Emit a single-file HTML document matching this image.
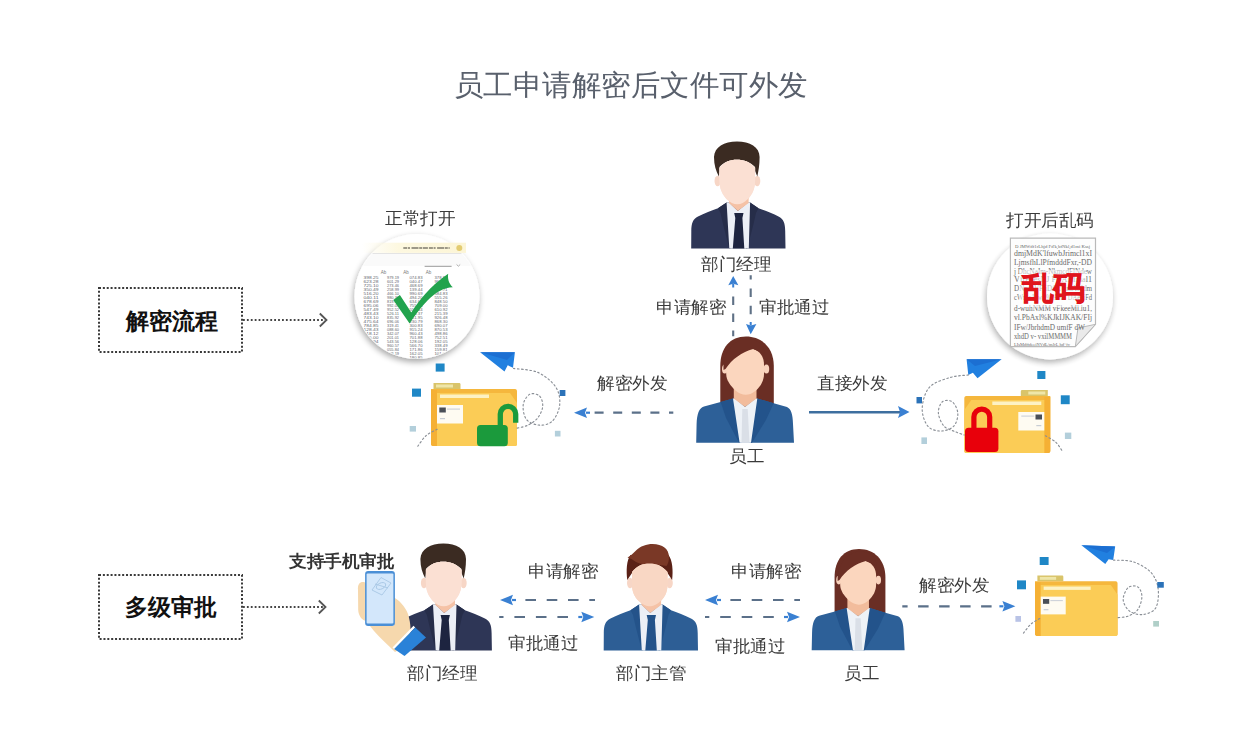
<!DOCTYPE html><html><head><meta charset="utf-8"><style>
html,body{margin:0;padding:0;background:#fff;}
#c{position:relative;width:1242px;height:740px;overflow:hidden;background:#fff;font-family:"Liberation Sans",sans-serif;}
.t{position:absolute;white-space:nowrap;line-height:1;transform-origin:0 0;}
svg{position:absolute;left:0;top:0;}
</style></head><body><div id="c">
<svg width="1242" height="740" viewBox="0 0 1242 740"><defs><filter id="sh" x="-30%" y="-30%" width="160%" height="160%"><feGaussianBlur in="SourceAlpha" stdDeviation="3"/><feOffset dx="-1.5" dy="3"/><feComponentTransfer><feFuncA type="linear" slope="0.35"/></feComponentTransfer><feMerge><feMergeNode/><feMergeNode in="SourceGraphic"/></feMerge></filter><clipPath id="c1"><circle cx="417" cy="296.5" r="62"/></clipPath></defs><g transform="translate(690,141) scale(1.0,1.0)"><ellipse cx="27.6" cy="40" rx="3.1" ry="5.2" fill="#f7d6c6"/><ellipse cx="67.2" cy="40" rx="3.1" ry="5.2" fill="#f7d6c6"/><path d="M28.9,35.6 C26,30 24,24 24,16 C24.5,6 34,0.5 47,0.5 C60,0.5 69.5,6 69.6,16 C69.6,24 68.5,30 67.3,35.6 L65.1,30 L65.1,26 C60,21 54,18.8 46.8,18.8 C40,18.8 34,21 29.5,26 L29.5,30 Z" fill="#3b2b22"/><path d="M29.5,27 C34,21 40,18.8 46.8,18.8 C54,18.8 60,21 65.1,27 L65.1,40 C65.1,47 62.5,53 58,58 C54.5,61.5 51,63.2 47.3,63.2 C43.6,63.2 40,61.5 36.5,58 C32,53 29.5,47 29.5,40 Z" fill="#fbe0d3"/><path d="M1.2,107.6 L1.3,90 C1.4,82 3,78 8,75.5 C14,72.5 22,69.5 28,67.3 L36.6,61.5 L60.1,61.5 L68.5,67.3 C74.5,69.5 82.5,72.5 88.5,75.5 C93.5,78 95.1,82 95.2,90 L95.5,107.6 Z" fill="#2e3656"/><path d="M36.6,61.5 L28,67.3 L30.5,72 L33,83 L39.3,107.6 L40.5,107.6 Z" fill="#262d49"/><path d="M60.1,61.5 L68.5,67.3 L66,72 L63.5,83 L57.3,107.6 L56,107.6 Z" fill="#262d49"/><path d="M36.6,61.5 L39,61.5 L47.8,70 L58,61.5 L60.1,61.5 L58.8,107.6 L39.3,107.6 Z" fill="#eceff6"/><path d="M39,48 L58.6,48 L58.6,62 L47.8,70 L39,62 Z" fill="#f5c2a6"/><path d="M29.5,27 C34,21 40,18.8 46.8,18.8 C54,18.8 60,21 65.1,27 L65.1,40 C65.1,47 62.5,53 58,58 C54.5,61.5 51,63.2 47.3,63.2 C43.6,63.2 40,61.5 36.5,58 C32,53 29.5,47 29.5,40 Z" fill="#fbe0d3"/><path d="M44.2,72 L53.5,72 L52.4,77 L45.3,77 Z M45.3,77 L52.4,77 L54.3,107.6 L42.8,107.6 Z" fill="#1d2440"/></g><g transform="translate(696,336) scale(1.0,1.0)"><path d="M24.3,68 L24.3,30 C24.3,12 34,0.5 50,0.5 C66,0.5 77.8,12 77.8,30 L77.8,68 Z" fill="#6a2e24"/><ellipse cx="28.8" cy="33" rx="2.8" ry="4.6" fill="#f9d3bd"/><ellipse cx="70.4" cy="33" rx="2.8" ry="4.6" fill="#f9d3bd"/><path d="M0.2,106.7 L0.6,88 C1,78 3,72 8,70.5 L24.6,66 L37,62.4 L61.3,62.4 L77.7,67.3 L91,71 C95,73 96.8,78 97,88 L98,106.7 Z" fill="#2d6098"/><path d="M37,62.4 L24.6,66 L30,82 L43,106.7 L44.5,106.7 Z" fill="#23538b"/><path d="M61.3,62.4 L77.7,67.3 L70,84 L56,106.7 L54.5,106.7 Z" fill="#23538b"/><path d="M37,62.4 L39,62.4 L49,71 L59.5,62.4 L61.3,62.4 L55,106.7 L43.6,106.7 Z" fill="#eef2f7"/><path d="M37.8,46 L60.5,46 L60.5,62.5 L49,71 L37.8,62.5 Z" fill="#f2bc9c"/><path d="M30.2,30 C30.5,20 42,13 57.2,13 C64,15 68,21 68,28.6 L68,38 C68,44 65,50 60,54.5 C56,57.8 52.5,58.8 49.7,58.8 C46.5,58.8 43,57.5 39.5,54.5 C34.5,50 30.2,44 30.2,38 Z" fill="#fbd6be"/><path d="M27.5,34 C27,16 38,3 52,3 C62,3.5 68,9 69,18 L57.2,13 C46,16 36,23 29.5,33 Z" fill="#6a2e24"/><path d="M46.3,73 L51.7,73 L53.5,106.7 L45.5,106.7 Z" fill="#dadfe7"/></g><polygon points="733.2,276.1 728.3,285.3 733.2,283.8 738.4,285.3" fill="#3a80d2"/><line x1="733.2" y1="284" x2="733.2" y2="287.5" stroke="#3a80d2" stroke-width="2"/><line x1="733.2" y1="336.2" x2="733.2" y2="290" stroke="#5f7186" stroke-width="2.1" stroke-dasharray="8.5 8.5" stroke-dashoffset="2.8"/><line x1="750.7" y1="275.2" x2="750.7" y2="320" stroke="#5f7186" stroke-width="2.1" stroke-dasharray="8.5 8.9" stroke-dashoffset="4.2"/><line x1="750.7" y1="322" x2="750.7" y2="325.5" stroke="#3a80d2" stroke-width="2"/><polygon points="750.7,334.3 746,323.9 750.7,325.4 756.4,323.9" fill="#3a80d2"/><polygon points="574,412.7 587,407.5 585,412.7 587,417.9" fill="#3a80d2"/><line x1="586" y1="412.7" x2="590" y2="412.7" stroke="#3a80d2" stroke-width="2.2"/><line x1="673.3" y1="412.7" x2="592" y2="412.7" stroke="#5b7089" stroke-width="2.2" stroke-dasharray="9 9.600000000000001" stroke-dashoffset="4.7"/><line x1="809" y1="412.3" x2="900" y2="412.3" stroke="#3e6f9f" stroke-width="2.4"/><polygon points="909.5,412 898,406 900,412 898,418" fill="#3a80d2"/><rect x="99" y="288" width="143" height="64" fill="none" stroke="#3a3a3a" stroke-width="2" stroke-dasharray="2 1.86"/><line x1="243" y1="320" x2="325" y2="320" stroke="#444" stroke-width="1.8" stroke-dasharray="1.8 2.1"/><polyline points="319.8,313.5 326.5,320 319.8,326.5" fill="none" stroke="#555" stroke-width="1.8"/><rect x="99" y="575" width="143" height="64" fill="none" stroke="#3a3a3a" stroke-width="2" stroke-dasharray="2 1.86"/><line x1="243" y1="607" x2="324" y2="607" stroke="#444" stroke-width="1.8" stroke-dasharray="1.8 2.1"/><polyline points="318.8,600.5 325.5,607 318.8,613.5" fill="none" stroke="#555" stroke-width="1.8"/><g transform="translate(431,383) scale(1.0)"><path d="M2.5,0 L28,0 C29,0 29.5,0.5 29.5,1.5 L29.5,6 L2.5,6 Z" fill="#d9c46a"/><rect x="5" y="1.5" width="17" height="3" fill="#efe6a8"/><path d="M0,6 L84,6 C85.5,6 86,7 86,8.5 L86,61 C86,62.5 85,63 84,63 L2,63 C1,63 0,62 0,61 Z" fill="#f5b73d"/><path d="M0,7 L6,7 L6,63 L2,63 C1,63 0,62 0,61 Z" fill="#f5b034"/><path d="M6,10 L79,10 L86,20 L86,61 C86,62.5 85,63 84,63 L6,63 Z" fill="#fbcc56"/><rect x="9" y="11.5" width="49" height="3.5" fill="#fdf2c4"/><rect x="6" y="22" width="26" height="18.5" fill="#fefbf2"/><rect x="8.3" y="24.5" width="6.5" height="5" fill="#4a4f57"/><rect x="16" y="25.5" width="13" height="1.2" fill="#cfd3da"/><rect x="9" y="35" width="5" height="1.2" fill="#c8cdd4"/></g><g transform="translate(1050.3,390) scale(-1.0,1.0)"><path d="M2.5,0 L28,0 C29,0 29.5,0.5 29.5,1.5 L29.5,6 L2.5,6 Z" fill="#d9c46a"/><rect x="5" y="1.5" width="17" height="3" fill="#efe6a8"/><path d="M0,6 L84,6 C85.5,6 86,7 86,8.5 L86,61 C86,62.5 85,63 84,63 L2,63 C1,63 0,62 0,61 Z" fill="#f5b73d"/><path d="M0,7 L6,7 L6,63 L2,63 C1,63 0,62 0,61 Z" fill="#f5b034"/><path d="M6,10 L79,10 L86,20 L86,61 C86,62.5 85,63 84,63 L6,63 Z" fill="#fbcc56"/><rect x="9" y="11.5" width="49" height="3.5" fill="#fdf2c4"/><rect x="6" y="22" width="26" height="18.5" fill="#fefbf2"/><rect x="8.3" y="24.5" width="6.5" height="5" fill="#4a4f57"/><rect x="16" y="25.5" width="13" height="1.2" fill="#cfd3da"/><rect x="9" y="35" width="5" height="1.2" fill="#c8cdd4"/></g><g transform="translate(1035,575.5) scale(0.96)"><path d="M2.5,0 L28,0 C29,0 29.5,0.5 29.5,1.5 L29.5,6 L2.5,6 Z" fill="#d9c46a"/><rect x="5" y="1.5" width="17" height="3" fill="#efe6a8"/><path d="M0,6 L84,6 C85.5,6 86,7 86,8.5 L86,61 C86,62.5 85,63 84,63 L2,63 C1,63 0,62 0,61 Z" fill="#f5b73d"/><path d="M0,7 L6,7 L6,63 L2,63 C1,63 0,62 0,61 Z" fill="#f5b034"/><path d="M6,10 L79,10 L86,20 L86,61 C86,62.5 85,63 84,63 L6,63 Z" fill="#fbcc56"/><rect x="9" y="11.5" width="49" height="3.5" fill="#fdf2c4"/><rect x="6" y="22" width="26" height="18.5" fill="#fefbf2"/><rect x="8.3" y="24.5" width="6.5" height="5" fill="#4a4f57"/><rect x="16" y="25.5" width="13" height="1.2" fill="#cfd3da"/><rect x="9" y="35" width="5" height="1.2" fill="#c8cdd4"/></g><g transform="translate(396.4,543) scale(1.0,1.0)"><ellipse cx="27.6" cy="40" rx="3.1" ry="5.2" fill="#f7d6c6"/><ellipse cx="67.2" cy="40" rx="3.1" ry="5.2" fill="#f7d6c6"/><path d="M28.9,35.6 C26,30 24,24 24,16 C24.5,6 34,0.5 47,0.5 C60,0.5 69.5,6 69.6,16 C69.6,24 68.5,30 67.3,35.6 L65.1,30 L65.1,26 C60,21 54,18.8 46.8,18.8 C40,18.8 34,21 29.5,26 L29.5,30 Z" fill="#3b2b22"/><path d="M29.5,27 C34,21 40,18.8 46.8,18.8 C54,18.8 60,21 65.1,27 L65.1,40 C65.1,47 62.5,53 58,58 C54.5,61.5 51,63.2 47.3,63.2 C43.6,63.2 40,61.5 36.5,58 C32,53 29.5,47 29.5,40 Z" fill="#fbe0d3"/><path d="M1.2,107.6 L1.3,90 C1.4,82 3,78 8,75.5 C14,72.5 22,69.5 28,67.3 L36.6,61.5 L60.1,61.5 L68.5,67.3 C74.5,69.5 82.5,72.5 88.5,75.5 C93.5,78 95.1,82 95.2,90 L95.5,107.6 Z" fill="#2e3656"/><path d="M36.6,61.5 L28,67.3 L30.5,72 L33,83 L39.3,107.6 L40.5,107.6 Z" fill="#262d49"/><path d="M60.1,61.5 L68.5,67.3 L66,72 L63.5,83 L57.3,107.6 L56,107.6 Z" fill="#262d49"/><path d="M36.6,61.5 L39,61.5 L47.8,70 L58,61.5 L60.1,61.5 L58.8,107.6 L39.3,107.6 Z" fill="#eceff6"/><path d="M39,48 L58.6,48 L58.6,62 L47.8,70 L39,62 Z" fill="#f5c2a6"/><path d="M29.5,27 C34,21 40,18.8 46.8,18.8 C54,18.8 60,21 65.1,27 L65.1,40 C65.1,47 62.5,53 58,58 C54.5,61.5 51,63.2 47.3,63.2 C43.6,63.2 40,61.5 36.5,58 C32,53 29.5,47 29.5,40 Z" fill="#fbe0d3"/><path d="M44.2,72 L53.5,72 L52.4,77 L45.3,77 Z M45.3,77 L52.4,77 L54.3,107.6 L42.8,107.6 Z" fill="#1d2440"/></g><g transform="translate(602.5,543) scale(1.0,1.0)"><ellipse cx="27.6" cy="40" rx="3.1" ry="5.2" fill="#f7d6c6"/><ellipse cx="67.2" cy="40" rx="3.1" ry="5.2" fill="#f7d6c6"/><path d="M24.8,37 C23.6,28 24,17 28,12 L66,12 C70,17 70.8,28 69.6,37 L65,30 L29.5,30 Z" fill="#5a2116"/><path d="M29.5,29 C34,23 40,20.5 47,20.5 C54,20.5 60,23 65,29 L65,42 C65,49 62,55 57,59 C53,62.3 50.5,63.2 47.3,63.2 C44,63.2 41.5,62.3 37.5,59 C32.5,55 29.5,49 29.5,42 Z" fill="#f9d7c4"/><path d="M25,14.5 C28,13 30,11 33,8 C38,3 44,1 50,1 C60,1 66.5,6 66.5,14 C66.5,18 65.5,21 64,23 C58,21.5 52,21.5 46,21.5 C40,21.5 34,20 30.5,17 C28.5,15.5 26.5,15 25,14.5 Z" fill="#7a3826"/><path d="M1.2,107.6 L1.3,90 C1.4,82 3,78 8,75.5 C14,72.5 22,69.5 28,67.3 L36.6,61.5 L60.1,61.5 L68.5,67.3 C74.5,69.5 82.5,72.5 88.5,75.5 C93.5,78 95.1,82 95.2,90 L95.5,107.6 Z" fill="#2d5e95"/><path d="M36.6,61.5 L28,67.3 L30.5,72 L33,83 L39.3,107.6 L40.5,107.6 Z" fill="#24538a"/><path d="M60.1,61.5 L68.5,67.3 L66,72 L63.5,83 L57.3,107.6 L56,107.6 Z" fill="#24538a"/><path d="M36.6,61.5 L39,61.5 L47.8,70 L58,61.5 L60.1,61.5 L58.8,107.6 L39.3,107.6 Z" fill="#eceff6"/><path d="M39,48 L58.6,48 L58.6,62 L47.8,70 L39,62 Z" fill="#f5c2a6"/><path d="M29.5,29 C34,23 40,20.5 47,20.5 C54,20.5 60,23 65,29 L65,42 C65,49 62,55 57,59 C53,62.3 50.5,63.2 47.3,63.2 C44,63.2 41.5,62.3 37.5,59 C32.5,55 29.5,49 29.5,42 Z" fill="#f9d7c4"/><path d="M44.2,72 L53.5,72 L52.4,77 L45.3,77 Z M45.3,77 L52.4,77 L54.3,107.6 L42.8,107.6 Z" fill="#23528a"/></g><g transform="translate(811.5,548.6) scale(0.95,0.953)"><path d="M24.3,68 L24.3,30 C24.3,12 34,0.5 50,0.5 C66,0.5 77.8,12 77.8,30 L77.8,68 Z" fill="#6a2e24"/><ellipse cx="28.8" cy="33" rx="2.8" ry="4.6" fill="#f9d3bd"/><ellipse cx="70.4" cy="33" rx="2.8" ry="4.6" fill="#f9d3bd"/><path d="M0.2,106.7 L0.6,88 C1,78 3,72 8,70.5 L24.6,66 L37,62.4 L61.3,62.4 L77.7,67.3 L91,71 C95,73 96.8,78 97,88 L98,106.7 Z" fill="#2d6098"/><path d="M37,62.4 L24.6,66 L30,82 L43,106.7 L44.5,106.7 Z" fill="#23538b"/><path d="M61.3,62.4 L77.7,67.3 L70,84 L56,106.7 L54.5,106.7 Z" fill="#23538b"/><path d="M37,62.4 L39,62.4 L49,71 L59.5,62.4 L61.3,62.4 L55,106.7 L43.6,106.7 Z" fill="#eef2f7"/><path d="M37.8,46 L60.5,46 L60.5,62.5 L49,71 L37.8,62.5 Z" fill="#f2bc9c"/><path d="M30.2,30 C30.5,20 42,13 57.2,13 C64,15 68,21 68,28.6 L68,38 C68,44 65,50 60,54.5 C56,57.8 52.5,58.8 49.7,58.8 C46.5,58.8 43,57.5 39.5,54.5 C34.5,50 30.2,44 30.2,38 Z" fill="#fbd6be"/><path d="M27.5,34 C27,16 38,3 52,3 C62,3.5 68,9 69,18 L57.2,13 C46,16 36,23 29.5,33 Z" fill="#6a2e24"/><path d="M46.3,73 L51.7,73 L53.5,106.7 L45.5,106.7 Z" fill="#dadfe7"/></g><polygon points="500,600 513,594.8 511,600 513,605.2" fill="#3a80d2"/><line x1="512" y1="600" x2="516" y2="600" stroke="#3a80d2" stroke-width="2.2"/><line x1="595" y1="600" x2="518" y2="600" stroke="#5b7089" stroke-width="2.2" stroke-dasharray="10.6 10.700000000000001" stroke-dashoffset="4.9"/><polygon points="594.3,617 581.3,611.8 583.3,617 581.3,622.2" fill="#3a80d2"/><line x1="582.3" y1="617" x2="578.3" y2="617" stroke="#3a80d2" stroke-width="2.2"/><line x1="499.2" y1="617" x2="576.3" y2="617" stroke="#5b7089" stroke-width="2.2" stroke-dasharray="10.6 10.9" stroke-dashoffset="6.3"/><polygon points="705,600 718,594.8 716,600 718,605.2" fill="#3a80d2"/><line x1="717" y1="600" x2="721" y2="600" stroke="#3a80d2" stroke-width="2.2"/><line x1="800" y1="600" x2="723" y2="600" stroke="#5b7089" stroke-width="2.2" stroke-dasharray="10.6 10.700000000000001" stroke-dashoffset="4.9"/><polygon points="800,617 787,611.8 789,617 787,622.2" fill="#3a80d2"/><line x1="788" y1="617" x2="784" y2="617" stroke="#3a80d2" stroke-width="2.2"/><line x1="705" y1="617" x2="782" y2="617" stroke="#5b7089" stroke-width="2.2" stroke-dasharray="10.6 10.9" stroke-dashoffset="6.3"/><polygon points="1015.4,606.3 1002.4,601.0999999999999 1004.4,606.3 1002.4,611.5" fill="#3a80d2"/><line x1="1003.4" y1="606.3" x2="999.4" y2="606.3" stroke="#3a80d2" stroke-width="2.2"/><line x1="902.3" y1="606.3" x2="997.4" y2="606.3" stroke="#5b7089" stroke-width="2.2" stroke-dasharray="10.5 10.5" stroke-dashoffset="5.2"/><circle cx="417" cy="296.5" r="62.5" fill="#fff" filter="url(#sh)"/><g clip-path="url(#c1)"><rect x="350" y="253" width="140" height="1.2" fill="#e4e4e4"/><rect x="350" y="254.2" width="140" height="11.8" fill="#fafafa"/><rect x="424.6" y="265.8" width="27" height="1" fill="#9a9a9a"/><path d="M456.6,264.5 L458.4,266.2 L460.2,264.5" stroke="#999" stroke-width="0.8" fill="none"/><text x="380.7" y="274" font-family="Liberation Sans" font-size="4.5" fill="#777">Ab</text><text x="403.2" y="274" font-family="Liberation Sans" font-size="4.5" fill="#777">Ab</text><text x="425.7" y="274" font-family="Liberation Sans" font-size="4.5" fill="#777">Ab</text><text x="363.5" y="279.2" font-family="Liberation Sans" font-size="4.3" fill="#5f666c" textLength="15" lengthAdjust="spacingAndGlyphs">398.25</text><text x="387.0" y="279.2" font-family="Liberation Sans" font-size="4.3" fill="#5f666c" textLength="12" lengthAdjust="spacingAndGlyphs">979.19</text><text x="409.5" y="279.2" font-family="Liberation Sans" font-size="4.3" fill="#5f666c" textLength="13" lengthAdjust="spacingAndGlyphs">074.83</text><text x="434.5" y="279.2" font-family="Liberation Sans" font-size="4.3" fill="#5f666c" textLength="13" lengthAdjust="spacingAndGlyphs">378.87</text><text x="363.5" y="283.2" font-family="Liberation Sans" font-size="4.3" fill="#5f666c" textLength="15" lengthAdjust="spacingAndGlyphs">623.28</text><text x="387.0" y="283.2" font-family="Liberation Sans" font-size="4.3" fill="#5f666c" textLength="12" lengthAdjust="spacingAndGlyphs">601.29</text><text x="409.5" y="283.2" font-family="Liberation Sans" font-size="4.3" fill="#5f666c" textLength="13" lengthAdjust="spacingAndGlyphs">040.47</text><text x="434.5" y="283.2" font-family="Liberation Sans" font-size="4.3" fill="#5f666c" textLength="13" lengthAdjust="spacingAndGlyphs">966.69</text><text x="363.5" y="287.1" font-family="Liberation Sans" font-size="4.3" fill="#5f666c" textLength="15" lengthAdjust="spacingAndGlyphs">725.10</text><text x="387.0" y="287.1" font-family="Liberation Sans" font-size="4.3" fill="#5f666c" textLength="12" lengthAdjust="spacingAndGlyphs">273.46</text><text x="409.5" y="287.1" font-family="Liberation Sans" font-size="4.3" fill="#5f666c" textLength="13" lengthAdjust="spacingAndGlyphs">468.69</text><text x="434.5" y="287.1" font-family="Liberation Sans" font-size="4.3" fill="#5f666c" textLength="13" lengthAdjust="spacingAndGlyphs">589.69</text><text x="363.5" y="291.1" font-family="Liberation Sans" font-size="4.3" fill="#5f666c" textLength="15" lengthAdjust="spacingAndGlyphs">350.49</text><text x="387.0" y="291.1" font-family="Liberation Sans" font-size="4.3" fill="#5f666c" textLength="12" lengthAdjust="spacingAndGlyphs">258.99</text><text x="409.5" y="291.1" font-family="Liberation Sans" font-size="4.3" fill="#5f666c" textLength="13" lengthAdjust="spacingAndGlyphs">139.44</text><text x="434.5" y="291.1" font-family="Liberation Sans" font-size="4.3" fill="#5f666c" textLength="13" lengthAdjust="spacingAndGlyphs">117.71</text><text x="363.5" y="295.1" font-family="Liberation Sans" font-size="4.3" fill="#5f666c" textLength="15" lengthAdjust="spacingAndGlyphs">516.20</text><text x="387.0" y="295.1" font-family="Liberation Sans" font-size="4.3" fill="#5f666c" textLength="12" lengthAdjust="spacingAndGlyphs">466.10</text><text x="409.5" y="295.1" font-family="Liberation Sans" font-size="4.3" fill="#5f666c" textLength="13" lengthAdjust="spacingAndGlyphs">990.69</text><text x="434.5" y="295.1" font-family="Liberation Sans" font-size="4.3" fill="#5f666c" textLength="13" lengthAdjust="spacingAndGlyphs">584.83</text><text x="363.5" y="299.1" font-family="Liberation Sans" font-size="4.3" fill="#5f666c" textLength="15" lengthAdjust="spacingAndGlyphs">040.11</text><text x="387.0" y="299.1" font-family="Liberation Sans" font-size="4.3" fill="#5f666c" textLength="12" lengthAdjust="spacingAndGlyphs">980.36</text><text x="409.5" y="299.1" font-family="Liberation Sans" font-size="4.3" fill="#5f666c" textLength="13" lengthAdjust="spacingAndGlyphs">494.20</text><text x="434.5" y="299.1" font-family="Liberation Sans" font-size="4.3" fill="#5f666c" textLength="13" lengthAdjust="spacingAndGlyphs">555.26</text><text x="363.5" y="303.0" font-family="Liberation Sans" font-size="4.3" fill="#5f666c" textLength="15" lengthAdjust="spacingAndGlyphs">678.69</text><text x="387.0" y="303.0" font-family="Liberation Sans" font-size="4.3" fill="#5f666c" textLength="12" lengthAdjust="spacingAndGlyphs">819.84</text><text x="409.5" y="303.0" font-family="Liberation Sans" font-size="4.3" fill="#5f666c" textLength="13" lengthAdjust="spacingAndGlyphs">634.64</text><text x="434.5" y="303.0" font-family="Liberation Sans" font-size="4.3" fill="#5f666c" textLength="13" lengthAdjust="spacingAndGlyphs">848.50</text><text x="363.5" y="307.0" font-family="Liberation Sans" font-size="4.3" fill="#5f666c" textLength="15" lengthAdjust="spacingAndGlyphs">695.06</text><text x="387.0" y="307.0" font-family="Liberation Sans" font-size="4.3" fill="#5f666c" textLength="12" lengthAdjust="spacingAndGlyphs">992.05</text><text x="409.5" y="307.0" font-family="Liberation Sans" font-size="4.3" fill="#5f666c" textLength="13" lengthAdjust="spacingAndGlyphs">755.94</text><text x="434.5" y="307.0" font-family="Liberation Sans" font-size="4.3" fill="#5f666c" textLength="13" lengthAdjust="spacingAndGlyphs">709.00</text><text x="363.5" y="311.0" font-family="Liberation Sans" font-size="4.3" fill="#5f666c" textLength="15" lengthAdjust="spacingAndGlyphs">547.49</text><text x="387.0" y="311.0" font-family="Liberation Sans" font-size="4.3" fill="#5f666c" textLength="12" lengthAdjust="spacingAndGlyphs">952.52</text><text x="409.5" y="311.0" font-family="Liberation Sans" font-size="4.3" fill="#5f666c" textLength="13" lengthAdjust="spacingAndGlyphs">559.44</text><text x="434.5" y="311.0" font-family="Liberation Sans" font-size="4.3" fill="#5f666c" textLength="13" lengthAdjust="spacingAndGlyphs">610.92</text><text x="363.5" y="314.9" font-family="Liberation Sans" font-size="4.3" fill="#5f666c" textLength="15" lengthAdjust="spacingAndGlyphs">483.43</text><text x="387.0" y="314.9" font-family="Liberation Sans" font-size="4.3" fill="#5f666c" textLength="12" lengthAdjust="spacingAndGlyphs">526.11</text><text x="409.5" y="314.9" font-family="Liberation Sans" font-size="4.3" fill="#5f666c" textLength="13" lengthAdjust="spacingAndGlyphs">955.37</text><text x="434.5" y="314.9" font-family="Liberation Sans" font-size="4.3" fill="#5f666c" textLength="13" lengthAdjust="spacingAndGlyphs">215.39</text><text x="363.5" y="318.9" font-family="Liberation Sans" font-size="4.3" fill="#5f666c" textLength="15" lengthAdjust="spacingAndGlyphs">743.10</text><text x="387.0" y="318.9" font-family="Liberation Sans" font-size="4.3" fill="#5f666c" textLength="12" lengthAdjust="spacingAndGlyphs">835.92</text><text x="409.5" y="318.9" font-family="Liberation Sans" font-size="4.3" fill="#5f666c" textLength="13" lengthAdjust="spacingAndGlyphs">451.95</text><text x="434.5" y="318.9" font-family="Liberation Sans" font-size="4.3" fill="#5f666c" textLength="13" lengthAdjust="spacingAndGlyphs">926.48</text><text x="363.5" y="322.9" font-family="Liberation Sans" font-size="4.3" fill="#5f666c" textLength="15" lengthAdjust="spacingAndGlyphs">475.64</text><text x="387.0" y="322.9" font-family="Liberation Sans" font-size="4.3" fill="#5f666c" textLength="12" lengthAdjust="spacingAndGlyphs">696.06</text><text x="409.5" y="322.9" font-family="Liberation Sans" font-size="4.3" fill="#5f666c" textLength="13" lengthAdjust="spacingAndGlyphs">230.79</text><text x="434.5" y="322.9" font-family="Liberation Sans" font-size="4.3" fill="#5f666c" textLength="13" lengthAdjust="spacingAndGlyphs">868.30</text><text x="363.5" y="326.8" font-family="Liberation Sans" font-size="4.3" fill="#5f666c" textLength="15" lengthAdjust="spacingAndGlyphs">784.85</text><text x="387.0" y="326.8" font-family="Liberation Sans" font-size="4.3" fill="#5f666c" textLength="12" lengthAdjust="spacingAndGlyphs">319.41</text><text x="409.5" y="326.8" font-family="Liberation Sans" font-size="4.3" fill="#5f666c" textLength="13" lengthAdjust="spacingAndGlyphs">300.83</text><text x="434.5" y="326.8" font-family="Liberation Sans" font-size="4.3" fill="#5f666c" textLength="13" lengthAdjust="spacingAndGlyphs">690.07</text><text x="363.5" y="330.8" font-family="Liberation Sans" font-size="4.3" fill="#5f666c" textLength="15" lengthAdjust="spacingAndGlyphs">128.43</text><text x="387.0" y="330.8" font-family="Liberation Sans" font-size="4.3" fill="#5f666c" textLength="12" lengthAdjust="spacingAndGlyphs">088.60</text><text x="409.5" y="330.8" font-family="Liberation Sans" font-size="4.3" fill="#5f666c" textLength="13" lengthAdjust="spacingAndGlyphs">915.24</text><text x="434.5" y="330.8" font-family="Liberation Sans" font-size="4.3" fill="#5f666c" textLength="13" lengthAdjust="spacingAndGlyphs">870.53</text><text x="363.5" y="334.8" font-family="Liberation Sans" font-size="4.3" fill="#5f666c" textLength="15" lengthAdjust="spacingAndGlyphs">318.12</text><text x="387.0" y="334.8" font-family="Liberation Sans" font-size="4.3" fill="#5f666c" textLength="12" lengthAdjust="spacingAndGlyphs">342.07</text><text x="409.5" y="334.8" font-family="Liberation Sans" font-size="4.3" fill="#5f666c" textLength="13" lengthAdjust="spacingAndGlyphs">960.43</text><text x="434.5" y="334.8" font-family="Liberation Sans" font-size="4.3" fill="#5f666c" textLength="13" lengthAdjust="spacingAndGlyphs">498.86</text><text x="363.5" y="338.8" font-family="Liberation Sans" font-size="4.3" fill="#5f666c" textLength="15" lengthAdjust="spacingAndGlyphs">075.00</text><text x="387.0" y="338.8" font-family="Liberation Sans" font-size="4.3" fill="#5f666c" textLength="12" lengthAdjust="spacingAndGlyphs">201.01</text><text x="409.5" y="338.8" font-family="Liberation Sans" font-size="4.3" fill="#5f666c" textLength="13" lengthAdjust="spacingAndGlyphs">701.88</text><text x="434.5" y="338.8" font-family="Liberation Sans" font-size="4.3" fill="#5f666c" textLength="13" lengthAdjust="spacingAndGlyphs">752.51</text><text x="363.5" y="342.7" font-family="Liberation Sans" font-size="4.3" fill="#5f666c" textLength="15" lengthAdjust="spacingAndGlyphs">566.94</text><text x="387.0" y="342.7" font-family="Liberation Sans" font-size="4.3" fill="#5f666c" textLength="12" lengthAdjust="spacingAndGlyphs">543.56</text><text x="409.5" y="342.7" font-family="Liberation Sans" font-size="4.3" fill="#5f666c" textLength="13" lengthAdjust="spacingAndGlyphs">128.06</text><text x="434.5" y="342.7" font-family="Liberation Sans" font-size="4.3" fill="#5f666c" textLength="13" lengthAdjust="spacingAndGlyphs">192.05</text><text x="363.5" y="346.7" font-family="Liberation Sans" font-size="4.3" fill="#5f666c" textLength="15" lengthAdjust="spacingAndGlyphs">798.60</text><text x="387.0" y="346.7" font-family="Liberation Sans" font-size="4.3" fill="#5f666c" textLength="12" lengthAdjust="spacingAndGlyphs">960.57</text><text x="409.5" y="346.7" font-family="Liberation Sans" font-size="4.3" fill="#5f666c" textLength="13" lengthAdjust="spacingAndGlyphs">566.70</text><text x="434.5" y="346.7" font-family="Liberation Sans" font-size="4.3" fill="#5f666c" textLength="13" lengthAdjust="spacingAndGlyphs">338.49</text><text x="363.5" y="350.7" font-family="Liberation Sans" font-size="4.3" fill="#5f666c" textLength="15" lengthAdjust="spacingAndGlyphs">163.62</text><text x="387.0" y="350.7" font-family="Liberation Sans" font-size="4.3" fill="#5f666c" textLength="12" lengthAdjust="spacingAndGlyphs">055.84</text><text x="409.5" y="350.7" font-family="Liberation Sans" font-size="4.3" fill="#5f666c" textLength="13" lengthAdjust="spacingAndGlyphs">171.86</text><text x="434.5" y="350.7" font-family="Liberation Sans" font-size="4.3" fill="#5f666c" textLength="13" lengthAdjust="spacingAndGlyphs">159.81</text><text x="363.5" y="354.6" font-family="Liberation Sans" font-size="4.3" fill="#5f666c" textLength="15" lengthAdjust="spacingAndGlyphs">907.23</text><text x="387.0" y="354.6" font-family="Liberation Sans" font-size="4.3" fill="#5f666c" textLength="12" lengthAdjust="spacingAndGlyphs">608.19</text><text x="409.5" y="354.6" font-family="Liberation Sans" font-size="4.3" fill="#5f666c" textLength="13" lengthAdjust="spacingAndGlyphs">162.05</text><text x="434.5" y="354.6" font-family="Liberation Sans" font-size="4.3" fill="#5f666c" textLength="13" lengthAdjust="spacingAndGlyphs">101.74</text><text x="363.5" y="358.6" font-family="Liberation Sans" font-size="4.3" fill="#5f666c" textLength="15" lengthAdjust="spacingAndGlyphs">941.09</text><text x="387.0" y="358.6" font-family="Liberation Sans" font-size="4.3" fill="#5f666c" textLength="12" lengthAdjust="spacingAndGlyphs">883.18</text><text x="409.5" y="358.6" font-family="Liberation Sans" font-size="4.3" fill="#5f666c" textLength="13" lengthAdjust="spacingAndGlyphs">180.85</text><text x="434.5" y="358.6" font-family="Liberation Sans" font-size="4.3" fill="#5f666c" textLength="13" lengthAdjust="spacingAndGlyphs">921.32</text><text x="363.5" y="362.6" font-family="Liberation Sans" font-size="4.3" fill="#5f666c" textLength="15" lengthAdjust="spacingAndGlyphs">379.64</text><text x="387.0" y="362.6" font-family="Liberation Sans" font-size="4.3" fill="#5f666c" textLength="12" lengthAdjust="spacingAndGlyphs">596.58</text><text x="409.5" y="362.6" font-family="Liberation Sans" font-size="4.3" fill="#5f666c" textLength="13" lengthAdjust="spacingAndGlyphs">616.83</text><text x="434.5" y="362.6" font-family="Liberation Sans" font-size="4.3" fill="#5f666c" textLength="13" lengthAdjust="spacingAndGlyphs">626.99</text></g><linearGradient id="bg1" x1="0" x2="1" y1="0" y2="0"><stop offset="0" stop-color="#fdf8e0" stop-opacity="0"/><stop offset="0.35" stop-color="#fdf8e0" stop-opacity="1"/><stop offset="1" stop-color="#fcf5d6"/></linearGradient><rect x="362" y="242.7" width="104" height="10.2" fill="url(#bg1)"/><line x1="403.3" y1="248" x2="449.7" y2="248" stroke="#7d7a6c" stroke-width="1.3" stroke-dasharray="4 0.7 2 1.5 7 0.7 3 0.7 5 1"/><circle cx="459.3" cy="248" r="3" fill="#e3cc72"/><path d="M393.3,300.1 L399.9,294.9 L411.3,312.4 C418,302 430,286 448.2,273.8 C447.5,278 448.5,283.5 452.8,287.2 C444,287.5 436,292 428,300 C421,307 415,315 409.6,323.4 Z" fill="#22a34d"/><circle cx="1050" cy="296.4" r="63" fill="#fff" filter="url(#sh)" opacity="0.9"/><path d="M1010.4,238.2 L1095.5,238.2 L1095.5,324.3 L1075.3,346.6 L1010.4,346.6 Z" fill="#fdfdfd" stroke="#b9b9b9" stroke-width="1.2"/><path d="M1075.3,346.6 L1078,328 L1095.5,324.3 Z" fill="#eaeaea" stroke="#b9b9b9" stroke-width="1"/><text x="1015" y="247.5" font-family="Liberation Serif" font-size="4.2" fill="#6a6a6a" textLength="75" lengthAdjust="spacingAndGlyphs">D JMWdf1rLhjd Fd'k,bfNkl,d1mi Kssj </text><text x="1014" y="256" font-family="Liberation Serif" font-size="7.2" fill="#6a6a6a" textLength="78" lengthAdjust="spacingAndGlyphs">dmjMdK'lfuwbJrimcl1xI</text><text x="1014" y="265" font-family="Liberation Serif" font-size="7.2" fill="#6a6a6a" textLength="78" lengthAdjust="spacingAndGlyphs">LjmsfhLlPfmdddFxr,-DD</text><text x="1014" y="273.5" font-family="Liberation Serif" font-size="7.2" fill="#6a6a6a" textLength="78" lengthAdjust="spacingAndGlyphs">j DhcNaIm-NkmcdFlNdew</text><text x="1014" y="282" font-family="Liberation Serif" font-size="7.2" fill="#6a6a6a" textLength="78" lengthAdjust="spacingAndGlyphs">VfiFbesNJ Fb'Afslmal1</text><text x="1014" y="291" font-family="Liberation Serif" font-size="7.2" fill="#6a6a6a" textLength="78" lengthAdjust="spacingAndGlyphs">DNmAVFjiDfIk .ImAfddm</text><text x="1014" y="300" font-family="Liberation Serif" font-size="7.2" fill="#6a6a6a" textLength="78" lengthAdjust="spacingAndGlyphs">cWmx1ewP%lAA~ DAediFd</text><text x="1014" y="311" font-family="Liberation Serif" font-size="7.2" fill="#6a6a6a" textLength="78" lengthAdjust="spacingAndGlyphs">d-wuhNMM vFkeeMl.lu1,</text><text x="1014" y="320" font-family="Liberation Serif" font-size="7.2" fill="#6a6a6a" textLength="78" lengthAdjust="spacingAndGlyphs">vl.PbAxl%KJkIJKAK/FIj</text><text x="1014" y="329.5" font-family="Liberation Serif" font-size="7.2" fill="#6a6a6a" textLength="71" lengthAdjust="spacingAndGlyphs">IFw/JbrhdmD umfF dW</text><text x="1014" y="339" font-family="Liberation Serif" font-size="7.2" fill="#6a6a6a" textLength="58" lengthAdjust="spacingAndGlyphs">xhdD v- vxilMMMM</text><text x="1014" y="345.5" font-family="Liberation Serif" font-size="4.2" fill="#6a6a6a" textLength="56" lengthAdjust="spacingAndGlyphs">LIsMdffdeeiNVdL/mJrL hd~fv</text><rect x="1019" y="270" width="67" height="37" fill="#fff" opacity="0.55"/><path d="M500.3,425 L500.3,414 A7.7,7.7 0 0 1 515.7,414 L515.7,422.7" fill="none" stroke="#1b9a3c" stroke-width="5.3"/><rect x="477" y="425" width="30.8" height="21.2" rx="3.5" fill="#1b9a3c"/><path d="M973.9,428 L973.9,417 A7.9,7.9 0 0 1 989.7,417 L989.7,428" fill="none" stroke="#e8000b" stroke-width="5.2"/><rect x="965" y="427.7" width="33.4" height="24.3" rx="3.5" fill="#e8000b"/><polygon points="480.1,352.2 514.9,352.2 513,367.7 507.7,365.3 504.5,371.6" fill="#2180e0"/><polygon points="480.1,352.2 514.9,352.2 507,360" fill="#1c6fd2"/><polygon points="966.6,359.2 1001.6,359.2 977.5,378.3 972.9,372.7 968.3,374.9" fill="#2180e0"/><polygon points="966.6,359.2 1001.6,359.2 975,366" fill="#1c6fd2"/><polygon points="1081.4,545.2 1115.2,546.5 1113.2,560 1108.6,559.3 1105.3,564.1" fill="#2180e0"/><polygon points="1081.4,545.2 1115.2,546.5 1107,553" fill="#1c6fd2"/><path d="M513.5,368.4 C517.5,369.1 530.8,369.3 537.8,372.4 C544.8,375.5 552.1,381.6 555.7,387 C559.4,392.4 560.2,399.2 559.7,404.9 C559.2,410.6 555.8,417.6 552.4,421 C549.0,424.4 543.8,425.4 539.5,425.1 C535.2,424.9 529.2,422.9 526.5,419.5 C523.8,416.1 522.7,409.1 523.2,404.9 C523.7,400.7 527.0,395.8 529.7,394.3 C532.4,392.8 537.3,394.0 539.5,396 C541.7,398.0 543.0,402.9 542.7,406.5 C542.4,410.1 540.2,414.7 537.8,417.8 C535.4,420.9 531.7,423.3 528.1,425.1 C524.5,426.9 518.0,427.8 516,428.4" fill="none" stroke="#8a8f96" stroke-width="1.15" stroke-dasharray="1.6 2.5" stroke-linecap="round"/><path d="M417.8,446.2 C419.2,444.4 422.8,438.5 426,435.7 C429.2,432.9 435.4,430.3 437.3,429.2" fill="none" stroke="#8a8f96" stroke-width="1.15" stroke-dasharray="1.6 2.5" stroke-linecap="round"/><path d="M968.4,375 C965.4,375.4 957.0,375.4 950.5,377.4 C944.0,379.4 934.2,382.1 929.5,387.2 C924.8,392.3 922.5,401.7 922.2,408.2 C921.9,414.7 924.7,422.3 927.8,426.1 C930.9,429.9 936.5,431.0 940.8,431 C945.1,431.0 951.0,429.1 953.8,426.1 C956.6,423.1 958.1,417.2 957.8,413.1 C957.5,409.1 954.8,403.7 952.2,401.8 C949.6,399.9 944.7,399.9 942.4,401.8 C940.1,403.7 938.1,409.1 938.4,413.1 C938.7,417.2 941.2,423.0 944,426.1 C946.8,429.2 952.0,430.3 955.4,431.8 C958.8,433.3 962.8,434.5 964.3,435" fill="none" stroke="#8a8f96" stroke-width="1.15" stroke-dasharray="1.6 2.5" stroke-linecap="round"/><path d="M1045.4,435.8 C1047.2,436.9 1053.1,439.7 1055.9,442.3 C1058.7,444.9 1061.3,449.7 1062.4,451.2" fill="none" stroke="#8a8f96" stroke-width="1.15" stroke-dasharray="1.6 2.5" stroke-linecap="round"/><path d="M1113.5,560.1 C1116.8,560.4 1126.8,559.8 1133,561.8 C1139.2,563.8 1146.6,567.8 1150.8,572.3 C1155.0,576.8 1157.3,582.5 1158.1,588.5 C1158.9,594.5 1158.3,603.7 1155.7,608 C1153.1,612.3 1147.0,614.0 1142.7,614.5 C1138.4,615.0 1133.0,613.6 1129.7,611.2 C1126.5,608.8 1123.5,603.8 1123.2,599.9 C1122.9,596.0 1125.7,589.9 1128.1,587.7 C1130.5,585.5 1135.5,585.4 1137.8,586.9 C1140.1,588.4 1141.9,592.8 1141.9,596.6 C1141.9,600.4 1140.1,606.4 1137.8,609.6 C1135.5,612.9 1131.6,614.8 1128.1,616.1 C1124.6,617.5 1118.6,617.4 1116.7,617.7" fill="none" stroke="#8a8f96" stroke-width="1.15" stroke-dasharray="1.6 2.5" stroke-linecap="round"/><path d="M1023.5,633.1 C1024.7,631.6 1028.1,626.6 1030.8,624.2 C1033.5,621.8 1038.2,619.5 1039.7,618.5" fill="none" stroke="#8a8f96" stroke-width="1.15" stroke-dasharray="1.6 2.5" stroke-linecap="round"/><rect x="435.7" y="363.5" width="8.9" height="8.1" fill="#1f87c6"/><rect x="412" y="388.6" width="9.0" height="8.1" fill="#1f87c6"/><rect x="409.7" y="426" width="6.3" height="5.6" fill="#b3cfdb"/><rect x="559.7" y="390" width="5.7" height="6.0" fill="#2b72b8"/><rect x="554.9" y="430.8" width="5.6" height="5.7" fill="#b3cfdb"/><rect x="1037.3" y="371" width="8.1" height="8.0" fill="#1f87c6"/><rect x="1060.8" y="395.3" width="8.9" height="8.9" fill="#1f87c6"/><rect x="916.5" y="397" width="5.5" height="6.4" fill="#2b72b8"/><rect x="921.4" y="437.4" width="5.6" height="6.6" fill="#b3cfdb"/><rect x="1064.9" y="432.6" width="6.4" height="6.4" fill="#b3cfdb"/><rect x="1039.7" y="557" width="8.9" height="8.0" fill="#1f87c6"/><rect x="1017" y="580.4" width="9.0" height="8.9" fill="#1f87c6"/><rect x="1015.4" y="616" width="5.6" height="5.8" fill="#b9c3e6"/><rect x="1157.3" y="582" width="6.5" height="5.7" fill="#2b72b8"/><rect x="1153.2" y="621" width="5.8" height="5.6" fill="#b0cfc8"/><path d="M358,590 C357.5,584 360,581.5 364,582 L366,583 L366,621 C362,620 358.5,616 358.2,610 Z" fill="#f6d8ad"/><path d="M393,597 C399,600 405,606 408,614 C411,624 412,634 407,645 L395,652 C388,645 380,638 374,631 L366,621 L394,626 Z" fill="#f6d8ad"/><rect x="365.1" y="570.9" width="29.8" height="55.2" rx="3" fill="#4a8fd6"/><rect x="366.6" y="573.6" width="26.8" height="49.8" rx="1" fill="#d3e7fb"/><g opacity="0.7" fill="none" stroke="#8fb5d8" stroke-width="0.8"><path d="M372,590 L381,577.5 L391,583 L382,595 Z"/><path d="M375,584 L388,588"/><ellipse cx="381" cy="586" rx="5" ry="3" transform="rotate(-25 381 586)"/></g><path d="M392.5,647.5 L413.5,625.8 L415.2,627.4 L394.2,649.1 Z" fill="#ffffff"/><path d="M394.2,649.1 L415.2,627.4 L426,637.5 L404.5,656 Z" fill="#2a82d8"/></svg>
<div class="t" style="left:453.9px;top:71.2px;font-size:29px;font-weight:400;color:#59606c;transform:scaleX(1.016)">员工申请解密后文件可外发</div>
<div class="t" style="left:701.3px;top:256.0px;font-size:17px;font-weight:400;color:#3a3a3a;transform:scaleX(1.035)">部门经理</div>
<div class="t" style="left:656.4px;top:298.5px;font-size:17px;font-weight:400;color:#3a3a3a;transform:scaleX(1.035)">申请解密</div>
<div class="t" style="left:758.9px;top:298.5px;font-size:17px;font-weight:400;color:#3a3a3a;transform:scaleX(1.035)">审批通过</div>
<div class="t" style="left:728.8px;top:448.2px;font-size:17px;font-weight:400;color:#3a3a3a;transform:scaleX(1.035)">员工</div>
<div class="t" style="left:596.6px;top:375.4px;font-size:17px;font-weight:400;color:#3a3a3a;transform:scaleX(1.035)">解密外发</div>
<div class="t" style="left:817.0px;top:375.4px;font-size:17px;font-weight:400;color:#3a3a3a;transform:scaleX(1.035)">直接外发</div>
<div class="t" style="left:384.8px;top:210.2px;font-size:17px;font-weight:400;color:#3a3a3a;transform:scaleX(1.035)">正常打开</div>
<div class="t" style="left:1005.8px;top:211.7px;font-size:17px;font-weight:400;color:#3a3a3a;transform:scaleX(1.035)">打开后乱码</div>
<div class="t" style="left:125.6px;top:310.4px;font-size:23.4px;font-weight:700;color:#111111;transform:scaleX(1.0)">解密流程</div>
<div class="t" style="left:125.4px;top:596.4px;font-size:23.2px;font-weight:700;color:#111111;transform:scaleX(1.0)">多级审批</div>
<div class="t" style="left:288.5px;top:553.2px;font-size:17px;font-weight:700;color:#333333;transform:scaleX(1.035)">支持手机审批</div>
<div class="t" style="left:406.8px;top:665.2px;font-size:17px;font-weight:400;color:#3a3a3a;transform:scaleX(1.035)">部门经理</div>
<div class="t" style="left:527.8px;top:563.0px;font-size:17px;font-weight:400;color:#3a3a3a;transform:scaleX(1.035)">申请解密</div>
<div class="t" style="left:507.8px;top:634.6px;font-size:17px;font-weight:400;color:#3a3a3a;transform:scaleX(1.035)">审批通过</div>
<div class="t" style="left:615.8px;top:665.2px;font-size:17px;font-weight:400;color:#3a3a3a;transform:scaleX(1.035)">部门主管</div>
<div class="t" style="left:730.7px;top:563.0px;font-size:17px;font-weight:400;color:#3a3a3a;transform:scaleX(1.035)">申请解密</div>
<div class="t" style="left:715.1px;top:637.5px;font-size:17px;font-weight:400;color:#3a3a3a;transform:scaleX(1.035)">审批通过</div>
<div class="t" style="left:843.8px;top:665.0px;font-size:17px;font-weight:400;color:#3a3a3a;transform:scaleX(1.035)">员工</div>
<div class="t" style="left:918.9px;top:576.7px;font-size:17px;font-weight:400;color:#3a3a3a;transform:scaleX(1.035)">解密外发</div>
<div class="t" style="left:1021.5px;top:272px;font-size:32px;font-weight:700;color:#e0141c;-webkit-text-stroke:0.8px #e0141c;letter-spacing:-0.5px">乱码</div>
</div></body></html>
